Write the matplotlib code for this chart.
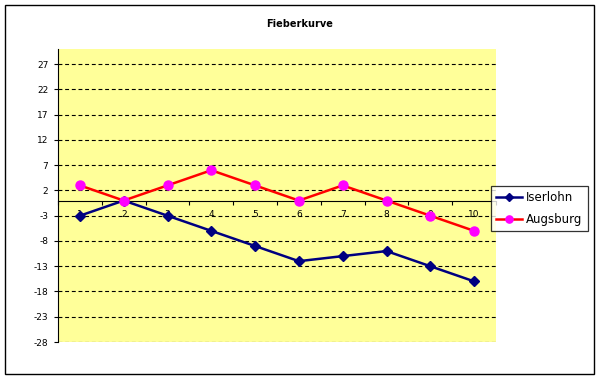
import matplotlib
matplotlib.use("Agg")
import matplotlib.pyplot as plt
from matplotlib.patches import Rectangle
import numpy as np

categories = ["1", "2", "3", "4", "5", "6", "7", "8", "9", "10"]
iserlohn = [-3, 0, -3, -6, -9, -12, -11, -10, -13, -16]
augsburg = [3, 0, 3, 6, 3, 0, 3, 0, -3, -6]
yticks = [-28, -23, -18, -13, -8, -3, 2, 7, 12, 17, 22, 27]
title = "Fieberkurve"

W, H = 601, 379
fig = plt.figure(figsize=(W / 100, H / 100), dpi=100)
fig.patch.set_facecolor("white")

# outer chart border
fig.patches.append(Rectangle((5 / W, 1 - 374 / H), 589 / W, 369 / H,
                             transform=fig.transFigure, fill=False,
                             edgecolor="black", linewidth=1.0))

L, T, R, B = 58, 49, 496, 342
ax = fig.add_axes([L / W, 1 - B / H, (R - L) / W, (B - T) / H])
ax.set_facecolor("#FFFF99")
ax.set_axisbelow(True)

x = np.arange(1, len(categories) + 1)
ax.plot(x, iserlohn, color="#000080", lw=1.8, marker="D", ms=5.5,
        mfc="#000080", mec="#000080", label="Iserlohn", zorder=3)
ax.plot(x, augsburg, color="#FF0000", lw=1.8, marker="o", ms=6.5,
        mfc="#FF00FF", mec="#FF00FF", label="Augsburg", zorder=3)

ax.set_xlim(0.5, len(categories) + 0.5)
ax.set_ylim(-28, 30)

for s in ["top", "right"]:
    ax.spines[s].set_visible(False)
ax.spines["left"].set_color("black")
ax.spines["bottom"].set_position(("data", 0))
ax.spines["bottom"].set_color("black")

ax.set_yticks(yticks)
ax.set_yticklabels([str(v) for v in yticks], fontsize=6.5)
ax.tick_params(axis="y", direction="out", length=3, width=0.8, pad=4)
ax.yaxis.grid(True, linestyle=(0, (3.5, 2.5)), color="black", linewidth=0.8)

ax.set_xticks(x)
ax.set_xticklabels(categories, fontsize=6.5)
ax.set_xticks(np.arange(0.5, len(categories) + 1), minor=True)
ax.tick_params(axis="x", which="major", length=0, pad=7)
ax.tick_params(axis="x", which="minor", direction="out", length=3, width=0.8)

fig.text(300 / W, 1 - 24 / H, title, ha="center", va="center",
         fontsize=7, fontweight="bold")

leg = fig.legend(loc="upper left", bbox_to_anchor=(491 / W, 1 - 186 / H),
                 frameon=True, fancybox=False, edgecolor="black",
                 fontsize=8.5, handlelength=2.2, handletextpad=0.3,
                 borderpad=0.45, labelspacing=0.75, borderaxespad=0,
                 markerscale=0.8)
leg.get_frame().set_linewidth(0.9)

fig.savefig("out.png", dpi=100)
